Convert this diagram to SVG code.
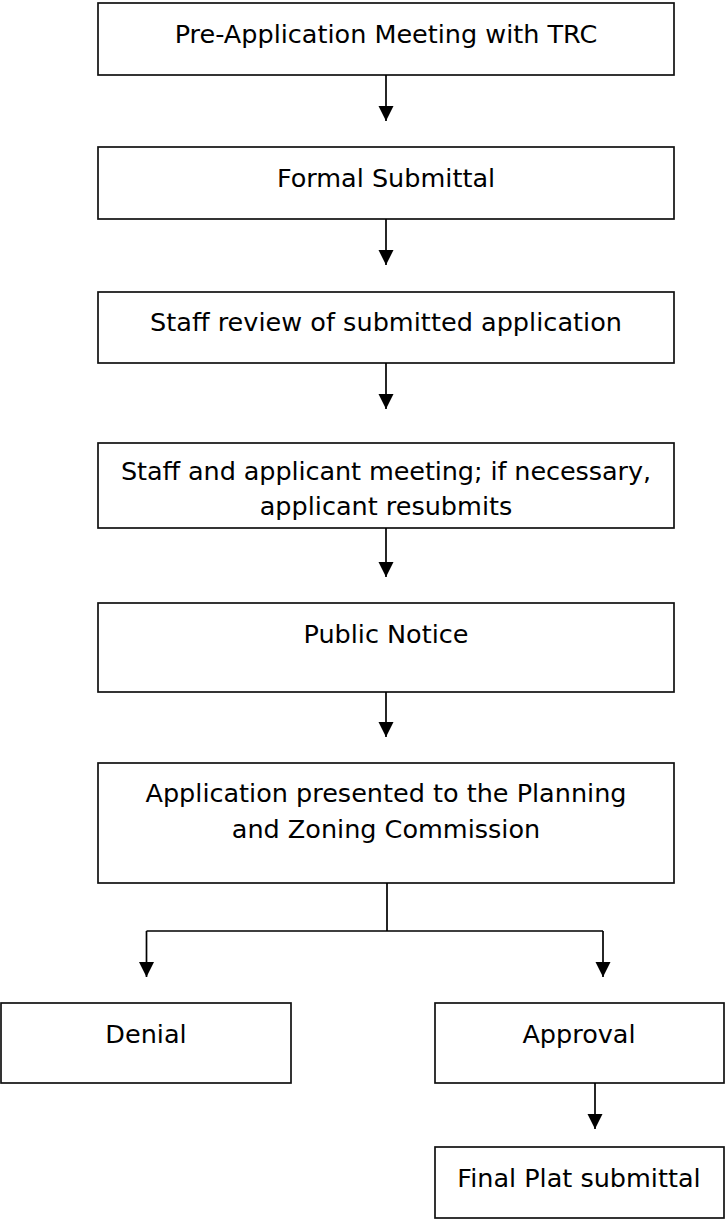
<svg xmlns="http://www.w3.org/2000/svg" width="725" height="1220" viewBox="0 0 725 1220">
<style>
.box{fill:#fff;stroke:#111;stroke-width:1.7}
.t{font-family:"DejaVu Sans","Liberation Sans",sans-serif;font-size:25.5px;fill:#000;text-anchor:middle}
.c{fill:none;stroke:#000;stroke-width:1.7}
</style>
<defs>
<marker id="ah" markerUnits="userSpaceOnUse" markerWidth="16" markerHeight="16" refX="15" refY="7.5" orient="auto" viewBox="0 0 16 16">
<path d="M0,0 L15,7.5 L0,15 z" fill="#000"/>
</marker>
</defs>
<rect width="725" height="1220" fill="#fff"/>
<g id="n1"><rect class="box" x="98" y="3" width="576" height="72"/><text class="t" x="386" y="43">Pre-Application Meeting with TRC</text></g>
<g id="n2"><rect class="box" x="98" y="147" width="576" height="72"/><text class="t" x="386" y="187">Formal Submittal</text></g>
<g id="n3"><rect class="box" x="98" y="292" width="576" height="71"/><text class="t" x="386" y="331" textLength="472">Staff review of submitted application</text></g>
<g id="n4"><rect class="box" x="98" y="443" width="576" height="85"/><text class="t" x="386" y="480" textLength="530">Staff and applicant meeting; if necessary,</text><text class="t" x="386" y="515">applicant resubmits</text></g>
<g id="n5"><rect class="box" x="98" y="603" width="576" height="89"/><text class="t" x="386" y="643">Public Notice</text></g>
<g id="n6"><rect class="box" x="98" y="763" width="576" height="120"/><text class="t" x="386" y="802">Application presented to the Planning</text><text class="t" x="386" y="838">and Zoning Commission</text></g>
<g id="n7"><rect class="box" x="1" y="1003" width="290" height="80"/><text class="t" x="146" y="1043">Denial</text></g>
<g id="n8"><rect class="box" x="435" y="1003" width="289" height="80"/><text class="t" x="579" y="1043">Approval</text></g>
<g id="n9"><rect class="box" x="435" y="1147" width="289" height="71"/><text class="t" x="579" y="1187">Final Plat submittal</text></g>
<g id="connectors">
<path class="c" d="M386,75 V121" marker-end="url(#ah)"/>
<path class="c" d="M386,219 V265" marker-end="url(#ah)"/>
<path class="c" d="M386,363 V409" marker-end="url(#ah)"/>
<path class="c" d="M386,528 V577" marker-end="url(#ah)"/>
<path class="c" d="M386,692 V737" marker-end="url(#ah)"/>
<path class="c" d="M387,883 V931 M146.5,931 H603"/>
<path class="c" d="M146.5,931 V977" marker-end="url(#ah)"/>
<path class="c" d="M603,931 V977" marker-end="url(#ah)"/>
<path class="c" d="M595,1083 V1129" marker-end="url(#ah)"/>
</g>
</svg>
